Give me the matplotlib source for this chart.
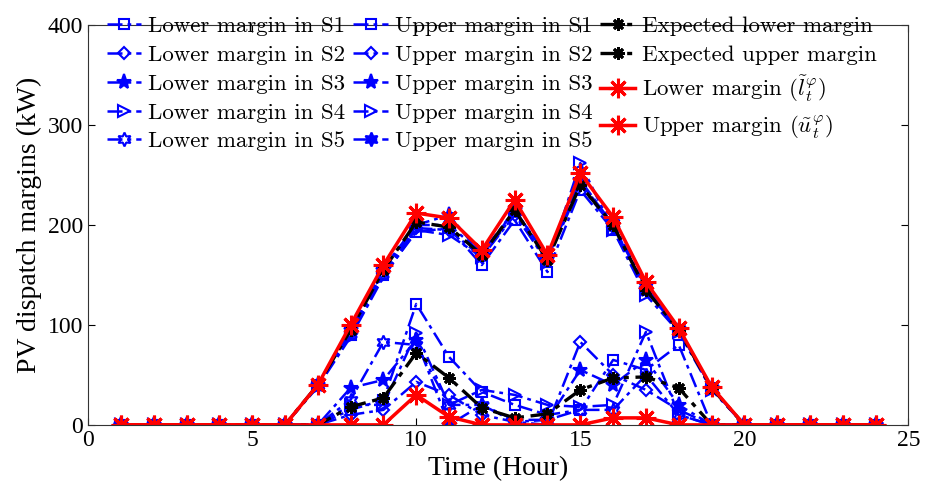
import matplotlib
matplotlib.use('Agg')
import matplotlib.pyplot as plt
import numpy as np

hours = np.arange(1, 25)

# lower margins per scenario (kW)
low_s1 = [0, 0, 0, 0, 0, 0, 0, 15, 25, 121, 68, 33, 20, 10, 15, 65, 55, 80, 0, 0, 0, 0, 0, 0]
low_s2 = [0, 0, 0, 0, 0, 0, 0, 10, 15, 43, 30, 10, 3, 0, 83, 50, 35, 15, 0, 0, 0, 0, 0, 0]
low_s3 = [0, 0, 0, 0, 0, 0, 0, 37, 45, 85, 0, 20, 3, 5, 55, 40, 65, 20, 0, 0, 0, 0, 0, 0]
low_s4 = [0, 0, 0, 0, 0, 0, 0, 20, 20, 92, 20, 35, 30, 20, 18, 20, 93, 10, 0, 0, 0, 0, 0, 0]
low_s5 = [0, 0, 0, 0, 0, 0, 0, 25, 83, 80, 20, 20, 5, 5, 15, 15, 50, 10, 0, 0, 0, 0, 0, 0]

# upper margins per scenario (kW)
up_s1 = [0, 0, 0, 0, 0, 0, 40, 90, 150, 193, 197, 160, 205, 153, 235, 195, 135, 95, 37, 0, 0, 0, 0, 0]
up_s2 = [0, 0, 0, 0, 0, 0, 40, 92, 152, 197, 195, 168, 210, 165, 240, 198, 138, 95, 37, 0, 0, 0, 0, 0]
up_s3 = [0, 0, 0, 0, 0, 0, 40, 95, 155, 200, 210, 170, 215, 168, 245, 200, 135, 95, 37, 0, 0, 0, 0, 0]
up_s4 = [0, 0, 0, 0, 0, 0, 38, 88, 148, 195, 190, 168, 212, 162, 262, 195, 130, 93, 35, 0, 0, 0, 0, 0]
up_s5 = [0, 0, 0, 0, 0, 0, 40, 95, 157, 200, 200, 172, 215, 168, 242, 202, 138, 96, 37, 0, 0, 0, 0, 0]

exp_low = [0, 0, 0, 0, 0, 0, 0, 18, 27, 72, 47, 17, 7, 11, 35, 47, 48, 37, 0, 0, 0, 0, 0, 0]
exp_up = [0, 0, 0, 0, 0, 0, 40, 95, 155, 203, 198, 170, 215, 165, 240, 200, 135, 95, 37, 0, 0, 0, 0, 0]

red_low = [0, 0, 0, 0, 0, 0, 0, 0, 0, 30, 8, 0, 0, 0, 0, 7, 7, 0, 0, 0, 0, 0, 0, 0]
red_up = [0, 0, 0, 0, 0, 0, 40, 100, 160, 212, 207, 175, 225, 170, 252, 208, 143, 97, 38, 0, 0, 0, 0, 0]

plt.rcParams['mathtext.fontset'] = 'cm'
plt.rcParams['axes.unicode_minus'] = False

fig = plt.figure(figsize=(9.27, 5.04), dpi=100)
ax = fig.add_axes([0.095, 0.157, 0.885, 0.793])

blue = '#0000FF'
mk = ['s', 'D', '*', '>', (6, 1, 0)]
msz = [7, 6, 11, 8, 10]
lows = [low_s1, low_s2, low_s3, low_s4, low_s5]
ups = [up_s1, up_s2, up_s3, up_s4, up_s5]
dashdot = (0, (6, 2, 1.5, 2))

for i in range(5):
    fill = blue if mk[i] == '*' else 'none'
    ax.plot(hours, lows[i], ls=dashdot, color=blue, lw=1.8, marker=mk[i], ms=msz[i],
            mfc=fill, mec=blue, mew=1.5, label='Lower margin in S%d' % (i + 1))
for i in range(5):
    fill = 'none' if mk[i] in ('s', 'D', '>') else blue
    ax.plot(hours, ups[i], ls=dashdot, color=blue, lw=1.8, marker=mk[i], ms=msz[i],
            mfc=fill, mec=blue, mew=1.5, label='Upper margin in S%d' % (i + 1))

ast = (8, 2, 0)
ax.plot(hours, exp_low, ls=dashdot, color='k', lw=2.4, marker=ast, ms=9, mew=2,
        label='Expected lower margin')
ax.plot(hours, exp_up, ls=dashdot, color='k', lw=2.4, marker=ast, ms=9, mew=2,
        label='Expected upper margin')
ax.plot(hours, red_low, '-', color='#FF0000', lw=2.5, marker=ast, ms=14, mew=2.2,
        label=r'Lower margin $(\tilde{l}_t^{\varphi})$')
ax.plot(hours, red_up, '-', color='#FF0000', lw=2.5, marker=ast, ms=14, mew=2.2,
        label=r'Upper margin $(\tilde{u}_t^{\varphi})$')

ax.set_xlim(0, 25)
ax.set_ylim(0, 400)
ax.set_xticks([0, 5, 10, 15, 20, 25])
ax.set_yticks([0, 100, 200, 300, 400])
ax.tick_params(direction='in', top=True, right=True, labelsize=17, length=5)
for lab in ax.get_xticklabels() + ax.get_yticklabels():
    lab.set_family('Liberation Serif')
for s in ax.spines.values():
    s.set_color('#333333')
ax.set_xlabel('Time (Hour)', family='Liberation Serif', fontsize=20)
ax.set_ylabel('PV dispatch margins (kW)', family='Liberation Serif', fontsize=20)

ax.legend(loc='upper left', bbox_to_anchor=(0.012, 1.045), ncol=3, frameon=False,
          prop={'family': 'cmr10', 'size': 16.5}, handlelength=1.5,
          handletextpad=0.3, columnspacing=0.35, labelspacing=0.38,
          borderaxespad=0.0)

fig.savefig('out.png', dpi=100)
